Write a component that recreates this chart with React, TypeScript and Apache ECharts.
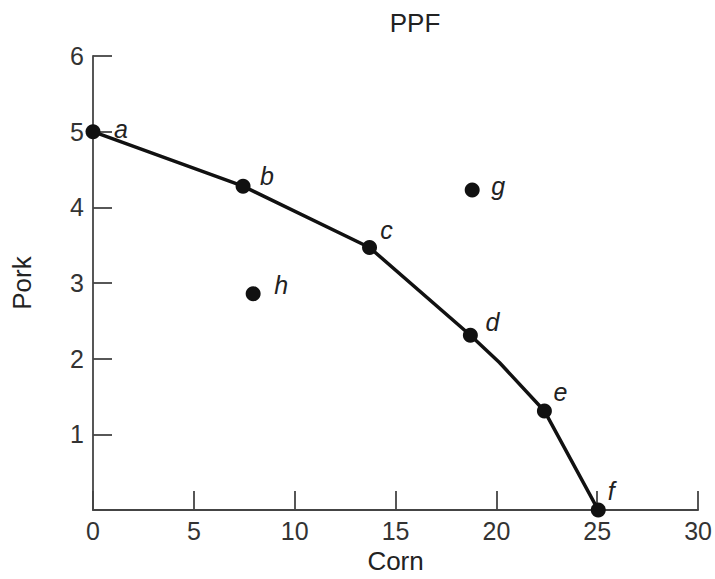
import React, { useEffect, useRef } from "react";
import * as echarts from "echarts";

const curveCorn = [0, 7.44, 13.71, 18.71, 20.15, 22.38, 25.05];
const curvePork = [5, 4.28, 3.47, 2.31, 1.95, 1.31, 0];

const pointNames = ["a", "b", "c", "d", "e", "f", "g", "h"];
const pointCorn = [0, 7.44, 13.71, 18.71, 22.38, 25.05, 18.8, 7.94];
const pointPork = [5, 4.28, 3.47, 2.31, 1.31, 0, 4.23, 2.86];

const xTicks = [0, 5, 10, 15, 20, 25, 30];
const yTicks = [0, 1, 2, 3, 4, 5, 6];

// label placement (pixels) for each point label
const labelOffsets: [number, number][] = [
  [28, -3],
  [24, -10],
  [17, -17],
  [22, -13],
  [16, -19],
  [13, -19],
  [26, -4],
  [28, -9],
];

export default function App() {
  const ref = useRef<HTMLDivElement>(null);
  useEffect(() => {
    if (!ref.current) return;
    const chart = echarts.init(ref.current, undefined, { renderer: "svg" });
    const font = "'Liberation Sans', Arial, Helvetica, sans-serif";
    chart.setOption({
      animation: false,
      backgroundColor: "#ffffff",
      textStyle: { fontFamily: font },
      title: {
        text: "PPF",
        left: 410,
        top: 5,
        textAlign: "center",
        textStyle: { fontSize: 26, fontWeight: "normal", color: "#222", fontFamily: font },
      },
      grid: { left: 93, right: 16, top: 56, bottom: 62, containLabel: false },
      xAxis: {
        type: "value",
        min: xTicks[0],
        max: xTicks[xTicks.length - 1],
        interval: 5,
        name: "Corn",
        nameLocation: "middle",
        nameGap: 37,
        nameTextStyle: { fontSize: 26, color: "#222", fontFamily: font },
        axisLine: { show: true, onZero: false, lineStyle: { color: "#444", width: 1.8 } },
        axisTick: { show: true, inside: true, length: 19, lineStyle: { color: "#444", width: 1.8 } },
        axisLabel: { fontSize: 25, color: "#333", margin: 8, fontFamily: font },
        splitLine: { show: false },
      },
      yAxis: {
        type: "value",
        min: yTicks[0],
        max: yTicks[yTicks.length - 1],
        interval: 1,
        name: "Pork",
        nameLocation: "middle",
        nameGap: 58,
        nameRotate: 90,
        nameTextStyle: { fontSize: 26, color: "#222", fontFamily: font },
        axisLine: { show: true, onZero: false, lineStyle: { color: "#444", width: 1.8 } },
        axisTick: { show: true, inside: true, length: 19, lineStyle: { color: "#444", width: 1.8 } },
        axisLabel: {
          fontSize: 25,
          color: "#333",
          margin: 9,
          fontFamily: font,
          formatter: (v: number) => (v === 0 ? "" : String(v)),
        },
        splitLine: { show: false },
      },
      series: [
        {
          type: "line",
          data: curveCorn.map((c, i) => [c, curvePork[i]]),
          showSymbol: false,
          symbol: "none",
          lineStyle: { color: "#111", width: 3.5 },
          z: 2,
        },
        {
          type: "scatter",
          symbolSize: 15,
          itemStyle: { color: "#111", opacity: 1 },
          z: 3,
          data: pointNames.map((n, i) => ({
            value: [pointCorn[i], pointPork[i]],
            name: n,
            label: {
              show: true,
              formatter: n,
              position: "inside",
              offset: labelOffsets[i],
              fontSize: 25,
              fontStyle: "italic",
              color: "#222",
              fontFamily: font,
            },
          })),
        },
      ],
    });
    return () => chart.dispose();
  }, []);
  return <div ref={ref} style={{ width: 715, height: 579, position: "absolute", left: 0, top: 0 }} />;
}
